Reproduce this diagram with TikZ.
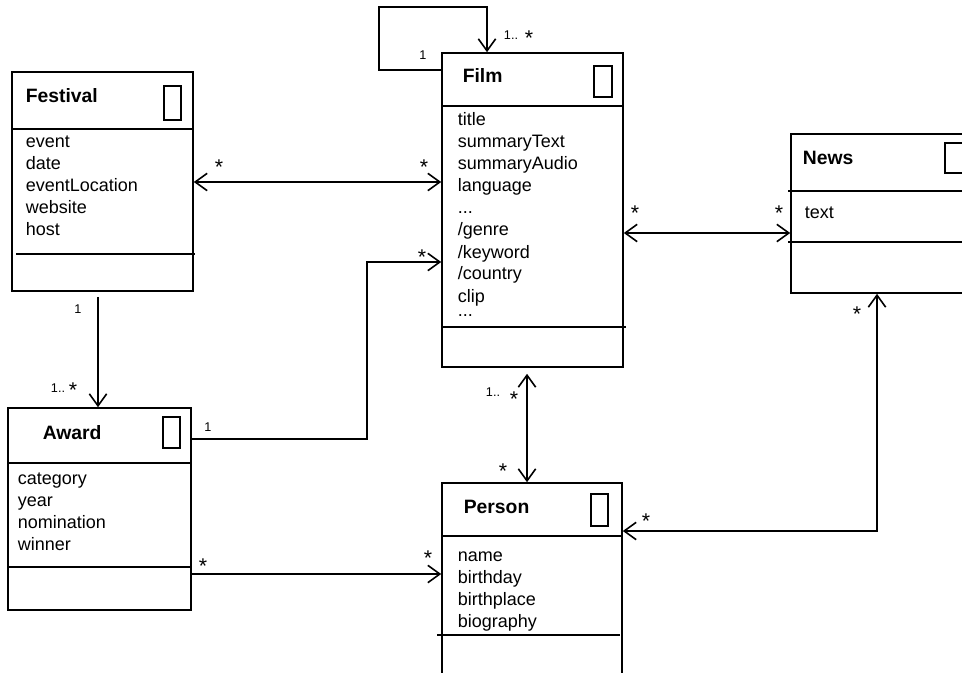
\documentclass[tikz,border=0pt]{standalone}
\usepackage{fontspec}
\setmainfont{Liberation Sans}
\usetikzlibrary{arrows.meta,fit}
\begin{document}
\begin{tikzpicture}[x=0.75pt,y=-0.75pt,
  line width=1.2pt,
  classbox/.style={draw, inner sep=0pt},
  icon/.style={draw, line width=1.1pt},
  title/.style={anchor=base west, inner sep=0pt, font=\fontsize{14.5}{17}\selectfont\bfseries},
  attr/.style={anchor=base west, inner sep=0pt, font=\fontsize{13.5}{16.5}\selectfont},
  mstar/.style={anchor=base, inner sep=0pt, yshift=-1.5pt, font=\fontsize{16}{18}\selectfont},
  mnum/.style={anchor=base, inner sep=0pt, font=\fontsize{9.5}{11}\selectfont},
  assoc/.style={-{Straight Barb[length=9pt,width=13pt]}},
  assoc2/.style={{Straight Barb[length=9pt,width=13pt]}-{Straight Barb[length=9pt,width=13pt]}},
]
\useasboundingbox (0,0) rectangle (962,673);
\clip (0,0) rectangle (962,673);

% ---- class boxes ----
\node[classbox, fit={(12,72) (193,291)}] (festival) {};
\node[classbox, fit={(442,53) (623,367)}] (film) {};
\node[classbox, fit={(791,134) (1000,293)}] (news) {};
\node[classbox, fit={(8,408) (191,610)}] (award) {};
\node[classbox, fit={(442,483) (622,720)}] (person) {};

% compartment separators
\draw (12,129) -- (193,129);  \draw (16,254) -- (195,254);
\draw (442,106) -- (623,106); \draw (442,327) -- (626,327);
\draw (788,191) -- (962,191); \draw (788,242) -- (962,242);
\draw (7,463) -- (191,463);   \draw (8,567) -- (191,567);
\draw (442,536) -- (622,536); \draw (437,635) -- (620,635);

% class icons
\draw[icon] (164,86) rectangle (181,120);
\draw[icon] (594,66) rectangle (612,97);
\draw[icon] (945,143) rectangle (966,173);
\draw[icon] (163,417) rectangle (180,448);
\draw[icon] (591,494) rectangle (608,526);

% ---- class names ----
\node[title] (festT) at (25,103) {Festival};
\node[title] (filmT) at (462,83) {Film};
\node[title] (newsT) at (802,165) {News};
\node[title] (awardT) at (42,439) {Award};
\node[title] (personT) at (463,513) {Person};

% ---- attributes ----
\foreach \t [count=\i from 0] in {event,date,eventLocation,website,host}
  \node[attr] (fa\i) at (25,148+22*\i) {\t};
\node[attr] (fi0) at (457,126) {title};
\node[attr] (fi1) at (457,148) {summaryText};
\node[attr] (fi2) at (457,170) {summaryAudio};
\node[attr] (fi3) at (457,192) {language};
\node[attr] (fi4) at (457,214) {...};
\node[attr] (fi5) at (457,236) {/genre};
\node[attr] (fi6) at (457,258) {/keyword};
\node[attr] (fi7) at (457,280) {/country};
\node[attr] (fi8) at (457,302) {clip};
\node[attr, text height=0.15em, text depth=0pt] (fi9) at (457,316) {...};
\node[attr] (na0) at (804,219) {text};
\foreach \t [count=\i from 0] in {category,year,nomination,winner}
  \node[attr] (aa\i) at (17,484+22*\i) {\t};
\foreach \t [count=\i from 0] in {name,birthday,birthplace,biography}
  \node[attr] (pa\i) at (457,561+22*\i) {\t};

% ---- bend points of the associations ----
\coordinate (loopA) at (379,70);
\coordinate (loopB) at (379,7);
\coordinate (loopC) at (487,7);
\coordinate (ffY) at (0,182);
\coordinate (fnY) at (0,233);
\coordinate (faX) at (98,0);
\coordinate (afA) at (367,439);
\coordinate (afB) at (367,262);
\coordinate (apY) at (0,574);
\coordinate (fpX) at (527,0);
\coordinate (np) at (877,531);

% ---- associations ----
\draw[assoc] (film.west |- loopA) -- (loopA) -- (loopB) -- (loopC) -- (film.north -| loopC);
\draw[assoc2] (festival.east |- ffY) -- (film.west |- ffY);
\draw[assoc2] (film.east |- fnY) -- (news.west |- fnY);
\draw[assoc, shorten <=3.75pt] (festival.south -| faX) -- (award.north -| faX);
\draw[assoc] (award.east |- afA) -- (afA) -- (afB) -- (film.west |- afB);
\draw[assoc] (award.east |- apY) -- (person.west |- apY);
\draw[assoc2, shorten <=4.5pt] (film.south -| fpX) -- (person.north -| fpX);
\draw[assoc2] (news.south -| np) -- (np) -- (person.east |- np);

% ---- multiplicities ----
\node[mnum] (m1) at (423,59.5) {1};
\node[mnum] (m2) at (511,39.5) {1..};
\node[mstar] (m3) at (529,44) {*};
\node[mstar] (m4) at (219,173) {*};
\node[mstar] (m5) at (424,173) {*};
\node[mstar] (m6) at (635,219) {*};
\node[mstar] (m7) at (779,219) {*};
\node[mstar] (m8) at (422,263) {*};
\node[mnum] (m9) at (208,431.5) {1};
\node[mnum] (m10) at (78,313.5) {1};
\node[mnum] (m11) at (58,392.5) {1..};
\node[mstar] (m12) at (73,395) {*};
\node[mnum] (m13) at (493,396.5) {1..};
\node[mstar] (m14) at (514,404) {*};
\node[mstar] (m15) at (503,476) {*};
\node[mstar] (m16) at (203,571) {*};
\node[mstar] (m17) at (428,563) {*};
\node[mstar] (m18) at (857,319) {*};
\node[mstar] (m19) at (646,526) {*};
\end{tikzpicture}
\end{document}
